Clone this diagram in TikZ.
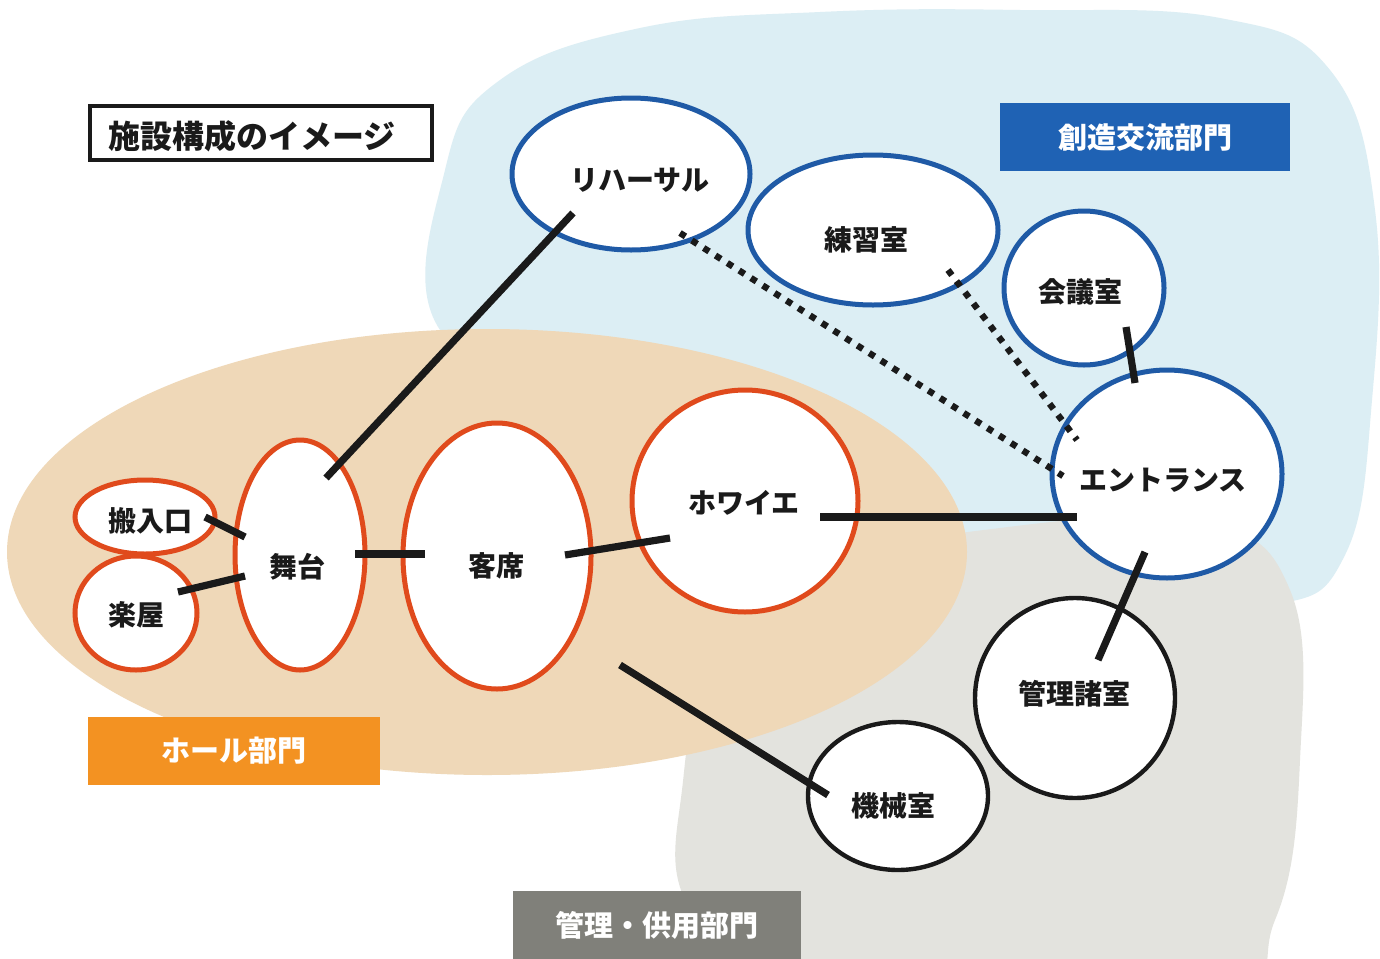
\documentclass[tikz,border=0pt]{standalone}
\usepackage{fontspec}
\newfontfamily\jp{Noto Sans CJK JP}
\usetikzlibrary{shapes.geometric,calc}
\definecolor{blueline}{HTML}{1F5AA6}
\definecolor{redline}{HTML}{E04A1C}
\definecolor{bgblue}{HTML}{DCEEF4}
\definecolor{bgbeige}{HTML}{EFD8B8}
\definecolor{bggrey}{HTML}{E3E3DE}
\definecolor{boxblue}{HTML}{1F62B4}
\definecolor{boxorange}{HTML}{F39222}
\definecolor{boxgrey}{HTML}{80807A}
\definecolor{ink}{HTML}{1A1A1A}
\tikzset{
  room/.style={ellipse, draw, line width=2.5pt, fill=white, inner sep=0pt},
  bluer/.style={room, draw=blueline},
  redr/.style={room, draw=redline},
  blackr/.style={room, draw=ink, line width=2.2pt},
  roomtext/.style={inner sep=0pt, text=ink, font=\jp\bfseries\fontsize{14}{16}\selectfont},
  link/.style={draw=ink, line width=3.6pt},
  dotlink/.style={draw=ink, line width=3.2pt, dash pattern=on 3.2pt off 3.8pt},
  tag/.style={minimum width=145pt, minimum height=34pt, inner sep=0pt, text=white,
    font=\jp\bfseries\fontsize{14.5}{16}\selectfont},
}
\begin{document}
\begin{tikzpicture}[x=0.5pt,y=-0.5pt]
\useasboundingbox (0,0) rectangle (1380,958);
\fill[white] (0,0) rectangle (1380,958);
\begin{scope}
\clip (0,0) rectangle (1380,958);
% background regions
\fill[bgblue] plot[smooth cycle, tension=0.7] coordinates {
  (445,170) (500,80) (640,28) (820,12) (1020,10) (1220,18) (1330,70) (1375,210)
  (1372,400) (1345,555) (1270,605) (1100,595) (960,545) (800,480) (600,400) (440,330)};
\fill[bggrey] plot[smooth cycle, tension=0.7] coordinates {
  (682,790) (720,660) (850,565) (1000,528) (1200,522) (1290,590) (1300,760)
  (1275,920) (1200,1000) (800,1000) (690,910)};
\fill[bgbeige] (487,552) ellipse[x radius=480, y radius=223];
\end{scope}

% title box
\node[draw=ink, line width=2pt, minimum width=171pt, minimum height=27pt, inner sep=0pt]
  (title) at (261,133) {};
\node[inner sep=0pt, text=ink, font=\jp\bfseries\fontsize{16}{18}\selectfont]
  (titletext) at (252,136) {施設構成のイメージ};

% section tags
\node[tag, fill=boxblue] (tagsozo) at (1145,137) {創造交流部門};
\node[tag, fill=boxorange, minimum width=146pt] (taghall) at (234,751) {ホール部門};
\node[tag, fill=boxgrey, minimum width=144pt] (tagkanri) at (657,925) {管理・供用部門};

% rooms
\node[bluer, minimum width=119pt, minimum height=76pt] (reh) at (631,174) {};
\node[bluer, minimum width=125pt, minimum height=75pt] (ren) at (873,230) {};
\node[bluer, minimum width=80pt, minimum height=77pt] (kai) at (1084,288) {};
\node[bluer, minimum width=115pt, minimum height=104pt] (ent) at (1167,474) {};
\node[blackr, minimum width=100pt, minimum height=100pt] (kan) at (1075,698) {};
\node[blackr, minimum width=90pt, minimum height=74pt] (kik) at (898,796) {};
\node[redr, minimum width=113pt, minimum height=111pt] (foy) at (745,501) {};
\node[redr, minimum width=94pt, minimum height=133pt] (kya) at (497,556) {};
\node[redr, minimum width=65pt, minimum height=115pt] (but) at (300,555) {};
\node[redr, minimum width=70pt, minimum height=37pt] (han) at (145,517) {};
\node[redr, minimum width=61pt, minimum height=57pt] (gak) at (136,613) {};

% room labels
\node[roomtext] (rehT) at (640,180) {リハーサル};
\node[roomtext] (renT) at (866,240) {練習室};
\node[roomtext] (kaiT) at (1080,292) {会議室};
\node[roomtext] (entT) at (1163,480) {エントランス};
\node[roomtext] (kanT) at (1074,694) {管理諸室};
\node[roomtext] (kikT) at (893,806) {機械室};
\node[roomtext] (foyT) at (744,503) {ホワイエ};
\node[roomtext] (kyaT) at (496,566) {客席};
\node[roomtext] (butT) at (297,567) {舞台};
\node[roomtext] (hanT) at (150,521) {搬入口};
\node[roomtext] (gakT) at (136,615) {楽屋};

% connector end points
\coordinate (rehA) at (573,213);
\coordinate (butA) at (326,478);
\coordinate (hanA) at (205,517);
\coordinate (butB) at (245,537);
\coordinate (gakA) at (178,592);
\coordinate (butC) at (245,576);
\coordinate (butD) at (355,554);
\coordinate (kyaA) at (425,554);
\coordinate (kyaB) at (565,555);
\coordinate (foyA) at (670,538);
\coordinate (foyB) at (820,517);
\coordinate (entA) at (1077,517);
\coordinate (kyaC) at (620,665);
\coordinate (kikA) at (828,795);
\coordinate (kaiA) at (1126,327);
\coordinate (entB) at (1135,383);
\coordinate (entC) at (1145,552);
\coordinate (kanA) at (1098,660);
\coordinate (rehB) at (680,233);
\coordinate (entD) at (1063,476);
\coordinate (renA) at (948,270);
\coordinate (entE) at (1077,440);

\draw[link] (rehA) -- (butA);
\draw[link] (hanA) -- (butB);
\draw[link] (gakA) -- (butC);
\draw[link] (butD) -- (kyaA);
\draw[link] (kyaB) -- (foyA);
\draw[link] (foyB) -- (entA);
\draw[link] (kyaC) -- (kikA);
\draw[link] (kaiA) -- (entB);
\draw[link] (entC) -- (kanA);
\draw[dotlink] (rehB) -- (entD);
\draw[dotlink] (renA) -- (entE);
\end{tikzpicture}
\end{document}
